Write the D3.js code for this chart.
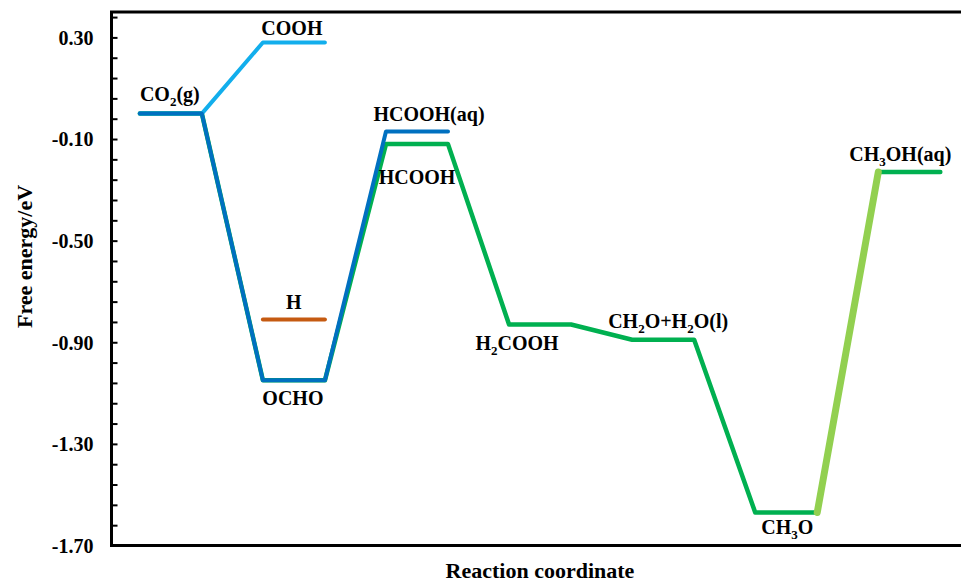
<!DOCTYPE html>
<html>
<head>
<meta charset="utf-8">
<script src="https://cdn.jsdelivr.net/npm/d3@7"></script>
<style>
  html, body { margin: 0; padding: 0; background: #fff; }
  svg text { font-family: "Liberation Serif", "Times New Roman", serif; font-weight: bold; fill: #000; }
</style>
</head>
<body>
<svg id="chart" width="961" height="585"></svg>
<script>
// ---- Data ----
const steps = [0, 1, 2, 3, 4, 5, 6];
// Main (green) pathway: CO2(g) -> OCHO -> HCOOH -> H2COOH -> CH2O+H2O(l) -> CH3O -> CH3OH(aq)
const greenValues = [0.00, -1.05, -0.12, -0.83, -0.89, -1.57, -0.23];
// Dark blue pathway: CO2(g) -> OCHO -> HCOOH(aq)
const blueValues = [0.00, -1.05, -0.07];
// Light blue pathway: CO2(g) -> COOH
const lightBlueValues = [0.00, 0.28];
// H adsorption level (step 1)
const hStep = 1;
const hValue = -0.81;
// Highlighted step (CH3O -> CH3OH(aq))
const rdsFrom = 5;
const rdsTo = 6;
// Labels
const labelTexts = ["CO2(g)", "COOH", "H", "OCHO", "HCOOH(aq)", "HCOOH", "H2COOH", "CH2O+H2O(l)", "CH3O", "CH3OH(aq)"];
const labelSteps = [0, 1, 1, 1, 2, 2, 3, 4, 5, 6];
const labelValues = [0.00, 0.28, -0.81, -1.05, -0.07, -0.12, -0.83, -0.89, -1.57, -0.23];
// Axis ticks
const majorTicks = [0.30, -0.10, -0.50, -0.90, -1.30, -1.70];
const yTitle = "Free energy/eV";
const xTitle = "Reaction coordinate";

// ---- Layout ----
const svg = d3.select("#chart");
const M = { left: 111.5, right: 961, top: 12, bottom: 545.5 };
const x = d3.scaleLinear().domain([-0.482, 6.42]).range([M.left, M.right]);
const y = d3.scaleLinear().domain([-1.70, 0.40]).range([M.bottom, M.top]);
const half = 0.252;

const colors = {
  green: "#00B050",
  blue: "#0070C0",
  lightBlue: "#12AEEC",
  orange: "#C55A11",
  lightGreen: "#92D050"
};

function levelPoints(vals, startStep) {
  const pts = [];
  vals.forEach((v, i) => {
    const s = steps[startStep + i];
    pts.push([s - half, v], [s + half, v]);
  });
  return pts;
}
const line = d3.line().x(d => x(d[0])).y(d => y(d[1]));

function drawPath(pts, color, w) {
  svg.append("path")
    .attr("d", line(pts))
    .attr("fill", "none")
    .attr("stroke", color)
    .attr("stroke-width", w)
    .attr("stroke-linecap", "round")
    .attr("stroke-linejoin", "round");
}

// Frame lines (top and bottom)
svg.append("line").attr("x1", M.left - 1.5).attr("x2", M.right).attr("y1", M.top).attr("y2", M.top)
  .attr("stroke", "#000").attr("stroke-width", 3);
svg.append("line").attr("x1", M.left - 1.5).attr("x2", M.right).attr("y1", M.bottom).attr("y2", M.bottom)
  .attr("stroke", "#000").attr("stroke-width", 3);

// Y axis with inward ticks
const minorTicks = d3.range(0, 27).map(k => +(-1.70 + k * 0.08).toFixed(2));
const fmt = d => d.toFixed(2);
const yAxis = d3.axisLeft(y)
  .tickValues(minorTicks)
  .tickSize(-6)
  .tickFormat(d => majorTicks.some(m => Math.abs(m - d) < 1e-6) ? fmt(d) : "");
const gy = svg.append("g").attr("transform", `translate(${M.left},0)`).call(yAxis);
gy.select(".domain").attr("stroke", "#000").attr("stroke-width", 3)
  .attr("d", `M0,${M.top}V${M.bottom}`);
gy.selectAll(".tick line").attr("stroke", "#000").attr("stroke-width", 2).attr("x1", 0).attr("x2", 6);
gy.selectAll(".tick text")
  .attr("x", -18)
  .attr("dy", "0.34em")
  .style("font-family", '"Liberation Serif", "Times New Roman", serif')
  .style("font-weight", "bold")
  .style("font-size", "20px")
  .attr("fill", "#000");

// Pathways
drawPath(levelPoints(greenValues, 0), colors.green, 4.5);
drawPath(levelPoints(lightBlueValues, 0), colors.lightBlue, 4);
drawPath(levelPoints(blueValues, 0), colors.blue, 4);
drawPath([[hStep - half, hValue], [hStep + half, hValue]], colors.orange, 4);
drawPath([[rdsFrom + half, greenValues[rdsFrom]], [rdsTo - half, greenValues[rdsTo]]], colors.lightGreen, 7);

// Labels (pixel offsets relative to their level)
const labelOffsets = [[-1, -13], [-2, -7], [0, -10], [-1, 25], [12, -10], [0, 40], [-23, 26], [5, -12], [1, 22], [-9, -11]];
function addLabel(t, s, v, off) {
  const txt = svg.append("text")
    .attr("x", x(s) + off[0])
    .attr("y", y(v) + off[1])
    .attr("text-anchor", "middle")
    .style("font-size", "20px");
  const tokens = [];
  const re = /(\d)|([^\d]+)/g;
  let m;
  while ((m = re.exec(t)) !== null) {
    if (m[1]) tokens.push({ s: m[1], sub: true });
    else tokens.push({ s: m[2], sub: false });
  }
  let shifted = false;
  tokens.forEach(tok => {
    const ts = txt.append("tspan").text(tok.s);
    if (tok.sub) {
      ts.style("font-size", "13px").attr("dy", 5);
      shifted = true;
    } else if (shifted) {
      ts.attr("dy", -5);
      shifted = false;
    }
  });
}
labelTexts.forEach((t, i) => addLabel(t, labelSteps[i], labelValues[i], labelOffsets[i]));

// Axis titles
svg.append("text")
  .attr("transform", `translate(32,256.5) rotate(-90)`)
  .attr("text-anchor", "middle")
  .style("font-size", "22px")
  .text(yTitle);
svg.append("text")
  .attr("x", 540)
  .attr("y", 578)
  .attr("text-anchor", "middle")
  .style("font-size", "22px")
  .text(xTitle);
</script>
</body>
</html>
